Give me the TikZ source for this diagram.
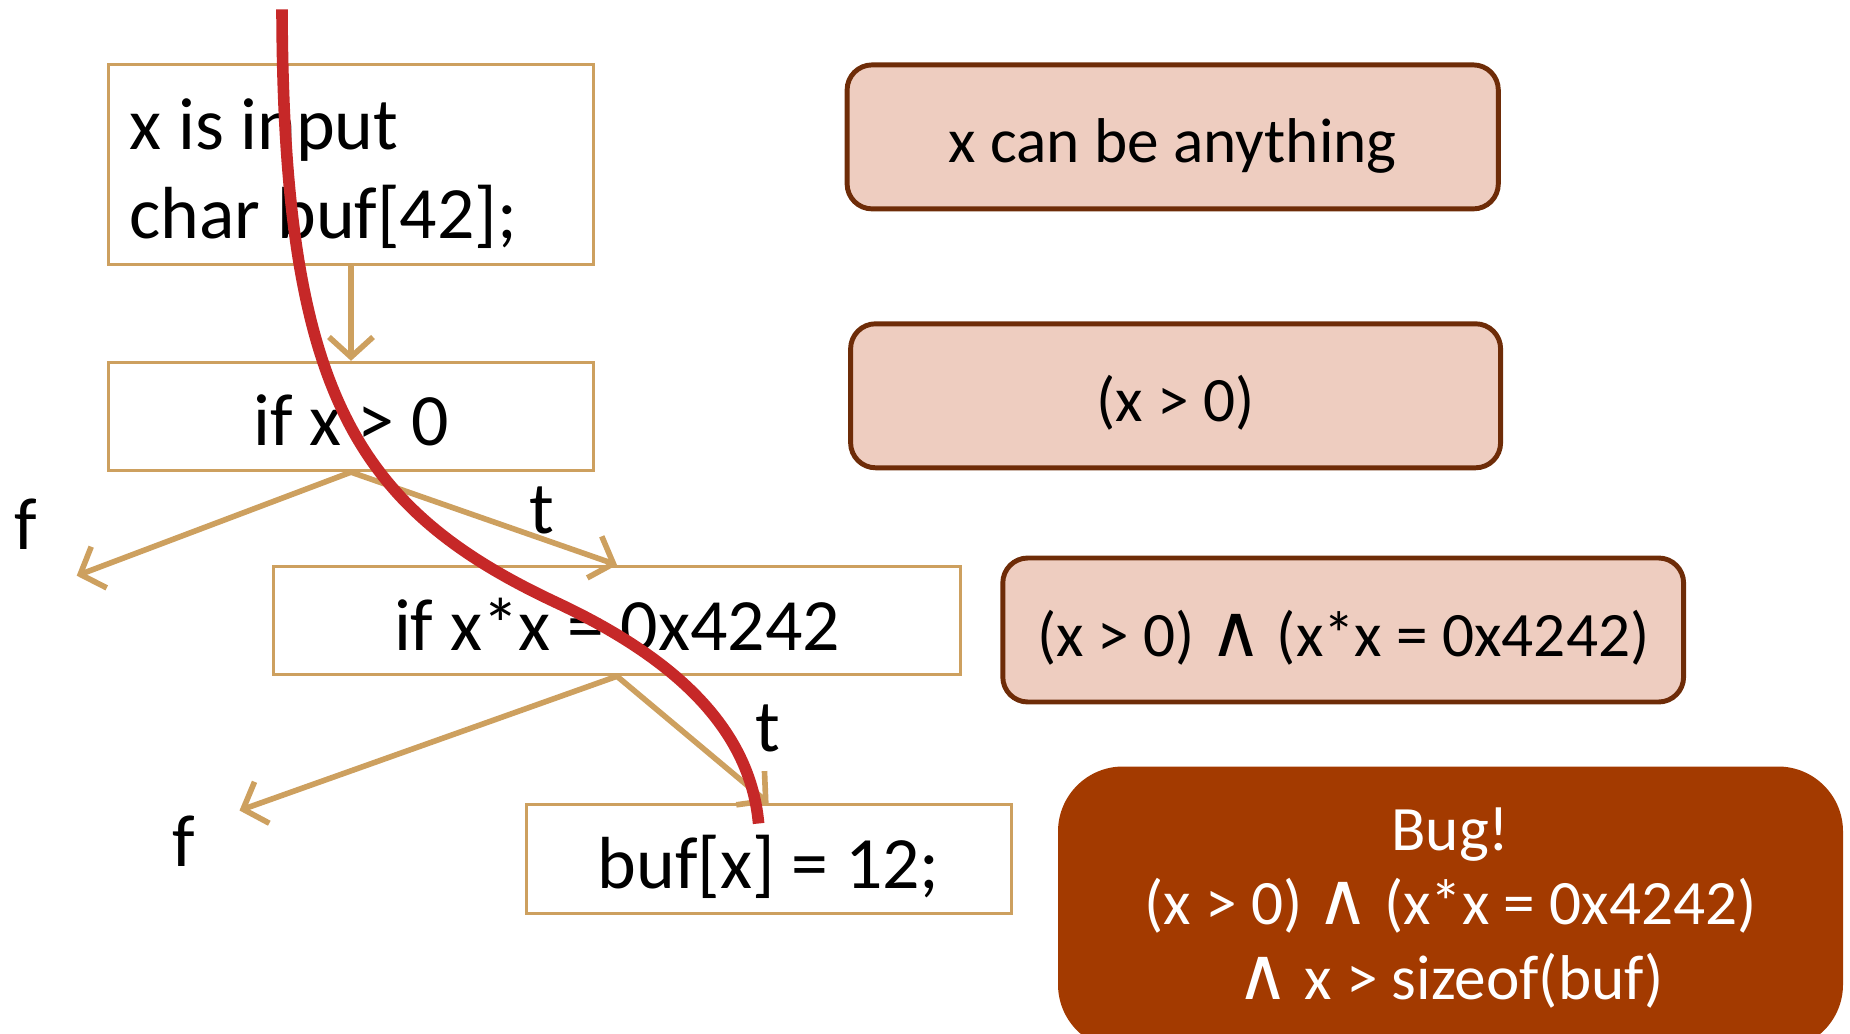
\documentclass[tikz,border=0pt]{standalone}
\usepackage{fontspec}
\setmainfont{Carlito}
\newfontfamily\wedgefont[Scale=1.15]{DejaVu Sans}
\newcommand\andsym{{\wedgefont ∧}}
\usetikzlibrary{arrows.meta}
\definecolor{tanStroke}{HTML}{CDA05F}
\definecolor{condFill}{HTML}{EECDC0}
\definecolor{condStroke}{HTML}{6E2C08}
\definecolor{bugFill}{HTML}{A33A00}
\definecolor{pathRed}{HTML}{C62828}

\begin{document}
\begin{tikzpicture}[
    font=\fontsize{21}{25.3}\selectfont,
    >={Straight Barb[length=2mm,width=4.4mm]},
    codeNode/.style={
        rectangle, draw=tanStroke, line width=0.8pt,
        minimum width=4.85cm, minimum height=1.085cm,
        text height=0.65cm, text depth=0.06cm,
        inner sep=0pt, align=center
    },
    condNode/.style={
        rectangle, rounded corners=0.25cm,
        draw=condStroke, line width=1.4pt, fill=condFill,
        minimum width=6.5cm, minimum height=1.44cm,
        text height=0.55cm, text depth=0.03cm,
        font=\fontsize{18}{21.3}\selectfont, align=center
    },
    bugNode/.style={
        rectangle, rounded corners=0.65cm, fill=bugFill,
        minimum width=7.85cm, minimum height=2.83cm,
        text=white, font=\fontsize{18}{21.3}\selectfont, align=center
    },
    edgeLabel/.style={inner sep=0pt},
    flow/.style={->, draw=tanStroke, line width=1.6pt},
    trace/.style={draw=pathRed, line width=3.3pt}
]
\clip (0,0) rectangle (18.5,-10.34);

% program as a control-flow graph
\node[draw=tanStroke, line width=0.8pt, minimum width=4.85cm, minimum height=1.994cm,
      inner xsep=0.21cm, inner ysep=0pt, text width=4.43cm, align=flush left] (Decl) at (3.51,-1.646)
  {\rule{0pt}{0.68cm}x is input\\char buf[42];};
\node[codeNode] (TestPos) at (3.51,-4.165) {if x > 0};
\node[codeNode, minimum width=6.867cm] (TestSq) at (6.17,-6.206) {if x*x = 0x4242};
\node[codeNode] (Write) at (7.686,-8.589) {buf[x] = 12;};

\coordinate (PosFalse) at (0.767,-5.757);
\coordinate (SqFalse) at (2.395,-8.105);

\node[edgeLabel] (PosF) at (0.26,-5.24) {f};
\node[edgeLabel] (PosT) at (5.415,-5.108) {t};
\node[edgeLabel] (SqT) at (7.68,-7.28) {t};
\node[edgeLabel] (SqF) at (1.84,-8.41) {f};

% path constraints
\node[condNode, minimum width=6.512cm] (CondA) at (11.727,-1.369) {x can be anything};
\node[condNode] (CondB) at (11.756,-3.958) {(x > 0)};
\node[condNode, minimum width=6.808cm] (CondC) at (13.432,-6.30) {(x > 0) \andsym{} (x*x = 0x4242)};
\node[bugNode] (Bug) at (14.505,-9.08)
  {Bug!\\(x > 0) \andsym{} (x*x = 0x4242)\\\andsym{} x > sizeof(buf)};

\draw[flow] (Decl.south) -- (TestPos.north);
\draw[flow] (TestPos.south) -- (PosFalse);
\draw[flow] (TestPos.south) -- (TestSq.north);
\draw[flow] (TestSq.south) -- (SqFalse);
\draw[flow] (TestSq.south) -- (Write.north);

% the executed path
\coordinate (TraceStart) at (2.82,-0.094);
\coordinate (TraceEnd) at (7.586,-8.235);
\draw[trace] (TraceStart) .. controls (2.832,-3.893) and (3.539,-5.073) .. (5.545,-6.017)
  .. controls (6.607,-6.512) and (7.492,-7.197) .. (TraceEnd);

\end{tikzpicture}
\end{document}
